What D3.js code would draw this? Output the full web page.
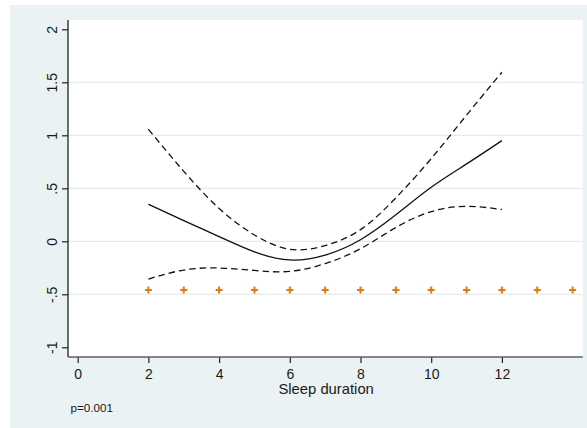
<!DOCTYPE html>
<html>
<head>
<meta charset="utf-8">
<script src="https://cdnjs.cloudflare.com/ajax/libs/d3/7.8.5/d3.min.js"></script>
<style>
  body { margin: 0; background: #ffffff; }
  text { font-family: "Liberation Sans", Arial, sans-serif; fill: #1a1a1a; }
</style>
</head>
<body>
<div class="Content"></div>
<script>
// sleep duration values where the fitted curve is drawn
var sleepHours = [2, 3, 4, 5, 6, 7, 8, 9, 10, 11, 12];
// fitted estimate and confidence bounds
var fitValues   = [0.35, 0.195, 0.044, -0.10, -0.176, -0.13, 0.015, 0.25, 0.51, 0.73, 0.95];
var upperValues = [1.057, 0.66, 0.31, 0.06, -0.075, -0.04, 0.11, 0.41, 0.78, 1.19, 1.595];
var lowerValues = [-0.356, -0.271, -0.252, -0.275, -0.284, -0.21, -0.07, 0.13, 0.28, 0.33, 0.30];
// marker row along the bottom
var markerHours = [2, 3, 4, 5, 6, 7, 8, 9, 10, 11, 12, 13, 14];
var markerLevel = -0.46;
// tick labels
var xTicks = [0, 2, 4, 6, 8, 10, 12];
var yTicks = [-1, -0.5, 0, 0.5, 1, 1.5, 2];
var yTickLabels = ["-1", "-.5", "0", ".5", "1", "1.5", "2"];
var gridTicks = [-0.5, 0, 0.5, 1, 1.5];

var w_view = 587, h_view = 428;
var plot = {left: 68, right: 582.7, top: 20, bottom: 357};

var svg = d3.select(".Content")
            .append("svg")
            .attr("width", w_view)
            .attr("height", h_view);

// outer background
svg.append("rect")
   .attr("x", 10).attr("y", 5)
   .attr("width", w_view - 10).attr("height", h_view - 5)
   .style("fill", "#eaf2f3");

// plot region
svg.append("rect")
   .attr("x", plot.left).attr("y", plot.top)
   .attr("width", plot.right - plot.left).attr("height", plot.bottom - plot.top)
   .style("fill", "#ffffff");

var x = d3.scaleLinear().domain([0, 14]).range([77.7, 572.6]);
var y = d3.scaleLinear().domain([-1, 2]).range([347.3, 29.3]);

// grid lines
svg.append("g")
   .selectAll("line")
   .data(gridTicks)
   .join("line")
   .attr("x1", plot.left).attr("x2", plot.right)
   .attr("y1", d => y(d)).attr("y2", d => y(d))
   .style("stroke", "#e2ebee")
   .style("stroke-width", 1.2);

// y axis
var yAxis = svg.append("g")
   .attr("class", "axis")
   .attr("transform", "translate(" + plot.left + ",0)")
   .call(d3.axisLeft(y).tickValues(yTicks).tickSize(6).tickSizeOuter(0)
           .tickFormat((d, i) => yTickLabels[i]));
yAxis.select(".domain").remove();
yAxis.selectAll(".tick line").style("stroke", "#222").style("stroke-width", 1.2);
yAxis.selectAll(".tick text")
   .attr("x", 0).attr("y", 0)
   .attr("dy", null)
   .attr("transform", "translate(-11,0) rotate(-90)")
   .style("text-anchor", "middle")
   .style("font-size", "14px")
   .style("font-family", "'Liberation Sans', Arial, sans-serif")
   .style("fill", "#1a1a1a");
svg.append("line")
   .attr("x1", plot.left).attr("x2", plot.left)
   .attr("y1", plot.top).attr("y2", plot.bottom)
   .style("stroke", "#222").style("stroke-width", 1.3);

// x axis
var xAxis = svg.append("g")
   .attr("class", "axis")
   .attr("transform", "translate(0," + plot.bottom + ")")
   .call(d3.axisBottom(x).tickValues(xTicks).tickSize(6).tickSizeOuter(0));
xAxis.select(".domain").remove();
xAxis.selectAll(".tick line").style("stroke", "#222").style("stroke-width", 1.2);
xAxis.selectAll(".tick text")
   .attr("y", 0).attr("dy", "22px")
   .style("font-size", "14px")
   .style("font-family", "'Liberation Sans', Arial, sans-serif")
   .style("fill", "#1a1a1a");
svg.append("line")
   .attr("x1", plot.left).attr("x2", plot.right)
   .attr("y1", plot.bottom).attr("y2", plot.bottom)
   .style("stroke", "#5e5e5e").style("stroke-width", 1.6);

// x axis title
svg.append("text")
   .attr("x", (x(0) + x(14)) / 2 + 1)
   .attr("y", 394)
   .style("text-anchor", "middle")
   .style("font-size", "14.8px")
   .text("Sleep duration");

// p value note
svg.append("text")
   .attr("x", 70.5)
   .attr("y", 412)
   .style("font-size", "11.7px")
   .text("p=0.001");

// curves
var line = d3.line()
   .x(d => x(d[0]))
   .y(d => y(d[1]))
   .curve(d3.curveNatural);

function drawCurve(values, dashed){
  svg.append("path")
     .datum(sleepHours.map((h, i) => [h, values[i]]))
     .attr("d", line)
     .style("fill", "none")
     .style("stroke", "#111")
     .style("stroke-width", 1.3)
     .style("stroke-dasharray", dashed ? "6.5,4" : null);
}
drawCurve(upperValues, true);
drawCurve(lowerValues, true);
drawCurve(fitValues, false);

// plus markers
var s = 3.5;
svg.append("g")
   .selectAll("path")
   .data(markerHours)
   .join("path")
   .attr("d", d => {
      var cx = x(d), cy = y(markerLevel);
      return "M" + (cx - s) + "," + cy + "H" + (cx + s) + "M" + cx + "," + (cy - s) + "V" + (cy + s);
   })
   .style("fill", "none")
   .style("stroke", "#e8780a")
   .style("stroke-width", 2);
</script>
</body>
</html>
